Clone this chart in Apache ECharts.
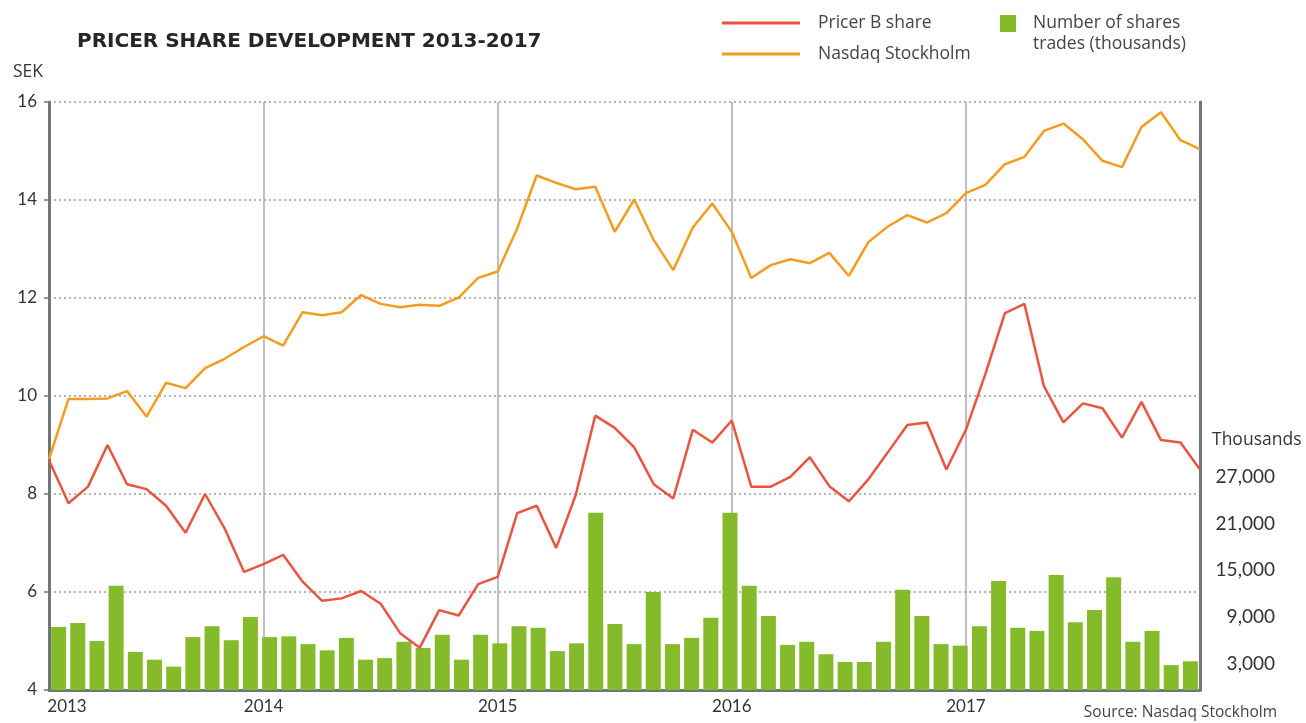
<!DOCTYPE html>
<html>
<head>
<meta charset="utf-8">
<script src="https://cdn.jsdelivr.net/npm/echarts@6/dist/echarts.min.js"></script>
<style>
  html, body { margin: 0; padding: 0; background: #fff; }
  #main { width: 1306px; height: 723px; }
</style>
</head>
<body>
<div id="main"></div>
<script>
// month categories, Jan 2013 .. Dec 2017
var months = [];
[2013, 2014, 2015, 2016, 2017].forEach(function (y) {
  for (var m = 1; m <= 12; m++) months.push(y + '-' + (m < 10 ? '0' + m : m));
});

// year labels and where they sit on the month axis
var yearLabels = ['2013', '2014', '2015', '2016', '2017'];
var yearIndex = [0, 11, 23, 35, 47];

// SEK
var pricer = [8.69, 7.81, 8.15, 9.0, 8.2, 8.1, 7.76, 7.21, 8.0, 7.3,
  6.41, 6.57, 6.76, 6.21, 5.82, 5.87, 6.02, 5.76, 5.16, 4.86,
  5.63, 5.52, 6.16, 6.31, 7.61, 7.76, 6.9, 7.98, 9.6, 9.35,
  8.95, 8.2, 7.91, 9.31, 9.05, 9.5, 8.15, 8.15, 8.35, 8.75,
  8.16, 7.85, 8.3, 8.85, 9.41, 9.46, 8.5, 9.31, 10.45, 11.69,
  11.88, 10.2, 9.46, 9.85, 9.75, 9.15, 9.88, 9.1, 9.05, 8.5];

var nasdaq = [8.71, 9.94, 9.94, 9.95, 10.1, 9.58, 10.27, 10.16, 10.57, 10.76,
  11.0, 11.22, 11.03, 11.71, 11.65, 11.71, 12.06, 11.88, 11.81, 11.86,
  11.84, 12.01, 12.41, 12.54, 13.42, 14.5, 14.35, 14.22, 14.27, 13.35,
  14.01, 13.18, 12.57, 13.44, 13.93, 13.35, 12.41, 12.67, 12.79, 12.71,
  12.92, 12.45, 13.14, 13.46, 13.69, 13.54, 13.73, 14.14, 14.31, 14.73,
  14.88, 15.41, 15.56, 15.24, 14.8, 14.67, 15.49, 15.79, 15.22, 15.04];

// thousands of shares traded
var shares = [8100, 8600, 6300, 13400, 4900, 3900, 3000, 6800, 8200, 6400,
  9400, 6800, 6900, 5900, 5100, 6700, 3900, 4100, 6200, 5400,
  7100, 3900, 7100, 6000, 8200, 8000, 5000, 6000, 22800, 8500,
  5900, 12600, 5900, 6700, 9300, 22800, 13400, 9500, 5800, 6200,
  4600, 3600, 3600, 6200, 12900, 9500, 5900, 5700, 8200, 14000,
  8000, 7600, 14800, 8700, 10300, 14500, 6200, 7600, 3200, 3700];

var rightTicks = [3000, 9000, 15000, 21000, 27000];

var FONT = 'Lato';
var TEXT_FONT = 'Open Sans';
var axisGrey = '#71767b';

var myChart = echarts.init(document.getElementById('main'));

var option = {
  animation: false,
  textStyle: { fontFamily: FONT },
  title: {
    text: 'PRICER SHARE DEVELOPMENT 2013-2017',
    left: 72, top: 27,
    textStyle: { fontFamily: 'DejaVu Sans', fontWeight: 'bold', fontSize: 20, color: '#262626' }
  },
  legend: [{
    data: ['Pricer B share', 'Nasdaq Stockholm'],
    orient: 'vertical',
    left: 722, top: 13,
    padding: 0,
    itemGap: 11,
    itemWidth: 78, itemHeight: 3,
    icon: 'rect',
    textStyle: { fontFamily: TEXT_FONT, fontSize: 17.5, color: '#444', lineHeight: 20, padding: [0, 0, 0, 13] }
  }, {
    data: ['Number of shares trades (thousands)'],
    left: 1000, top: 13,
    padding: 0,
    itemWidth: 16, itemHeight: 38,
    // square sits in the top part of the item so it lines up with the first text line
    icon: 'path://M0,0L16,0L16,17L0,17Z M0,38L0.01,38L0.01,37.99Z',
    formatter: function () { return 'Number of shares\ntrades (thousands)'; },
    textStyle: { fontFamily: TEXT_FONT, fontSize: 17.5, color: '#444', lineHeight: 21, padding: [0, 0, 0, 12] }
  }],
  grid: { left: 49, right: 106, top: 102, bottom: 33 },
  xAxis: [{
    type: 'category',
    data: months,
    boundaryGap: true,
    show: false
  }, {
    type: 'category',
    data: months,
    boundaryGap: false,
    position: 'bottom',
    axisLine: { lineStyle: { color: axisGrey, width: 3 } },
    axisTick: { show: false },
    axisLabel: {
      interval: function (i) { return yearIndex.indexOf(i) >= 0; },
      formatter: function (v, i) {
        var k = yearIndex.indexOf(i);
        return k === 0 ? '{first|' + yearLabels[k] + '}' : yearLabels[k];
      },
      rich: { first: { fontSize: 17, color: '#333', padding: [0, 0, 0, 36] } },
      fontSize: 17, color: '#333', margin: 8
    },
    splitLine: {
      show: true,
      interval: function (i) { return i > 0 && yearIndex.indexOf(i) >= 0; },
      lineStyle: { color: '#a9adb1', width: 1.5 }
    }
  }],
  yAxis: [{
    type: 'value',
    min: 4, max: 16, interval: 2,
    name: 'SEK',
    nameLocation: 'end',
    nameGap: 21,
    nameTextStyle: { fontFamily: TEXT_FONT, fontSize: 17.5, color: '#333', align: 'right', padding: [0, 6, 0, 0] },
    axisLine: { show: true, lineStyle: { color: axisGrey, width: 3 } },
    axisTick: { show: true, length: 5, lineStyle: { color: axisGrey, width: 1.5 } },
    axisLabel: { fontSize: 17, color: '#333', margin: 12 },
    splitLine: { lineStyle: { color: '#9a9a9a', type: [2, 3], width: 1.5 } }
  }, {
    type: 'value',
    min: 0, max: 75600, interval: 3000,
    position: 'right',
    axisLine: { show: true, lineStyle: { color: axisGrey, width: 3 } },
    axisTick: { show: false },
    splitLine: { show: false },
    axisLabel: {
      fontSize: 19, color: '#333', align: 'right', margin: 75,
      verticalAlign: 'bottom', lineHeight: 6,
      formatter: function (v) {
        return rightTicks.indexOf(v) >= 0 ? v.toLocaleString('en-US') : '';
      }
    }
  }],
  graphic: [{
    type: 'text', left: 1212, top: 431,
    style: { text: 'Thousands', fontFamily: TEXT_FONT, fontSize: 17.5, fill: '#333' }
  }, {
    type: 'text', right: 29, top: 705,
    style: { text: 'Source: Nasdaq Stockholm', fontFamily: TEXT_FONT, fontSize: 15.5, fill: '#444' }
  }],
  series: [{
    name: 'Number of shares trades (thousands)',
    type: 'bar',
    xAxisIndex: 0, yAxisIndex: 1,
    data: shares,
    barWidth: 15,
    itemStyle: { color: '#85bb2a' }
  }, {
    name: 'Pricer B share',
    type: 'line',
    xAxisIndex: 1, yAxisIndex: 0,
    data: pricer,
    symbol: 'none',
    lineStyle: { color: '#e9553f', width: 2.5 },
    itemStyle: { color: '#e9553f' }
  }, {
    name: 'Nasdaq Stockholm',
    type: 'line',
    xAxisIndex: 1, yAxisIndex: 0,
    data: nasdaq,
    symbol: 'none',
    lineStyle: { color: '#f39c1f', width: 2.5 },
    itemStyle: { color: '#f39c1f' }
  }]
};

myChart.setOption(option);
</script>
</body>
</html>
